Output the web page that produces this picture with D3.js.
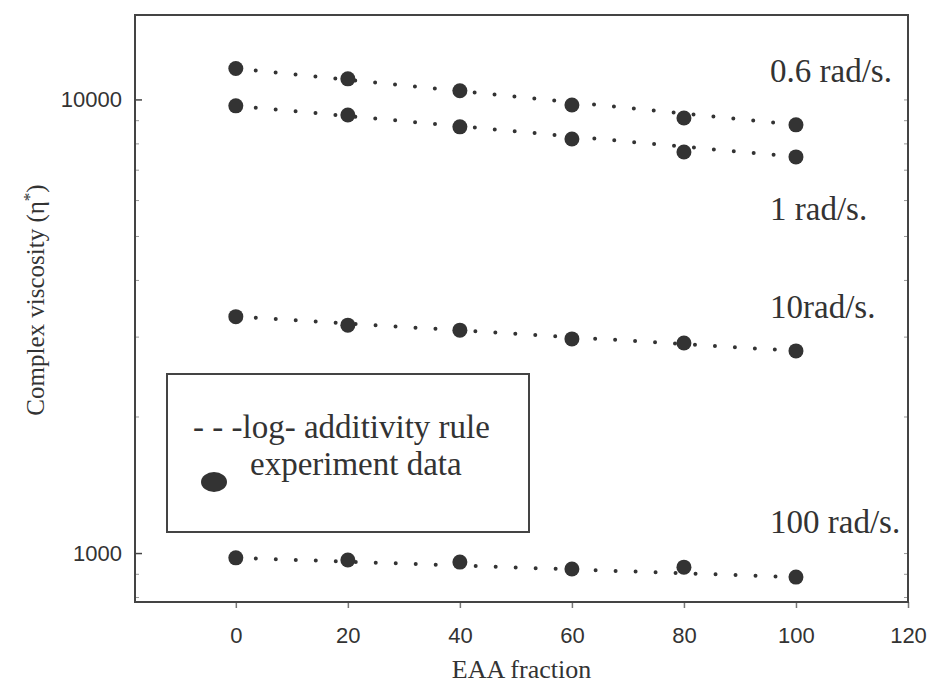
<!DOCTYPE html>
<html>
<head>
<meta charset="utf-8">
<script src="https://cdn.jsdelivr.net/npm/d3@7"></script>
<style>
  body { margin: 0; background: #fff; }
</style>
</head>
<body>
<script>
var fraction = [0, 20, 40, 60, 80, 100]
var x_ticks = [0, 20, 40, 60, 80, 100, 120]
var y_labels = [1000, 10000]
var rates = ["0.6 rad/s.", "1 rad/s.", "10rad/s.", "100 rad/s."]

// experiment data, one array per frequency
var eta_06 = [11700, 11100, 10450, 9720, 9100, 8790]
var eta_1 = [9680, 9240, 8700, 8180, 7660, 7470]
var eta_10 = [3320, 3180, 3100, 2965, 2905, 2790]
var eta_100 = [976, 965, 955, 922, 931, 885]
var series = [eta_06, eta_1, eta_10, eta_100]

// log-additivity rule: straight line (in log) between the pure components
var rule_x = [0, 100]
var rule_06 = [11700, 8790]
var rule_1 = [9680, 7470]
var rule_10 = [3320, 2790]
var rule_100 = [976, 885]
var rules = [rule_06, rule_1, rule_10, rule_100]

// where each label sits (value at the label baseline)
var label_values = [10930, 5420, 3300, 1107]

const width = 932
const height = 699
const plotLeft = 135, plotRight = 908, plotTop = 15, plotBottom = 602

var graph = d3.select("body").append("svg").attr("width", width).attr("height", height)

var xScale = d3.scaleLinear().domain([-18, 120]).range([plotLeft, plotRight])
var yScale = d3.scaleLog().domain([780, 15350]).range([plotBottom, plotTop])

var serif = "'Liberation Serif', 'Times New Roman', serif"
var sans = "'Liberation Sans', Arial, sans-serif"

// x axis
var x_axis = graph.append("g")
    .attr("transform", "translate(0," + plotBottom + ")")
    .call(d3.axisBottom(xScale).tickValues(x_ticks).tickSize(6).tickSizeOuter(0).tickPadding(19))
x_axis.select(".domain").remove()
x_axis.selectAll("line").attr("stroke", "#777").attr("stroke-width", 1.5)
x_axis.selectAll("text").attr("font-family", sans).attr("font-size", 22).attr("fill", "#333")

// y axis, ticks pointing into the plot
var minor = yScale.ticks().filter((d) => d >= 780 && d <= 15350)
var y_axis = graph.append("g")
    .attr("transform", "translate(" + plotLeft + ",0)")
    .call(d3.axisLeft(yScale).tickValues(minor).tickSize(-4).tickPadding(13)
        .tickFormat((d) => y_labels.indexOf(d) >= 0 ? d : ""))
y_axis.select(".domain").remove()
y_axis.selectAll("line").attr("stroke", "#999")
y_axis.selectAll(".tick").filter((d) => y_labels.indexOf(d) >= 0).select("line")
    .attr("x2", 7).attr("stroke", "#444").attr("stroke-width", 1.5)
y_axis.selectAll("text").attr("font-family", sans).attr("font-size", 22).attr("fill", "#333")

var y_axis2 = graph.append("g")
    .attr("transform", "translate(" + plotRight + ",0)")
    .call(d3.axisRight(yScale).tickValues(minor).tickSize(-4).tickFormat(""))
y_axis2.select(".domain").remove()
y_axis2.selectAll("line").attr("stroke", "#999")

// frame
graph.append("rect")
    .attr("x", plotLeft).attr("y", plotTop)
    .attr("width", plotRight - plotLeft).attr("height", plotBottom - plotTop)
    .attr("fill", "none").attr("stroke", "#444").attr("stroke-width", 2)

// axis titles
graph.append("text").attr("x", (plotLeft + plotRight) / 2).attr("y", 678)
    .attr("text-anchor", "middle").attr("font-family", serif).attr("font-size", 26).attr("fill", "#333")
    .text("EAA fraction")

var ytitle = graph.append("text")
    .attr("transform", "translate(44,300) rotate(-90)")
    .attr("text-anchor", "middle").attr("font-family", serif).attr("font-size", 25).attr("fill", "#333")
ytitle.append("tspan").text("Complex viscosity (η")
ytitle.append("tspan").attr("dy", -9).attr("font-size", 17).text("*")
ytitle.append("tspan").attr("dy", 9).text(")")

// rule lines (dotted)
var lineGenerator = d3.line()
    .x((d, i) => xScale(rule_x[i]))
    .y((d) => yScale(d))

graph.selectAll(".rule").data(rules).enter().append("path")
    .attr("class", "rule")
    .attr("fill", "none")
    .attr("stroke", "#333")
    .attr("stroke-width", 4)
    .attr("stroke-linecap", "round")
    .attr("stroke-dasharray", "0 20")
    .attr("d", lineGenerator)

// experiment points
var groups = graph.selectAll(".series").data(series).enter().append("g").attr("class", "series")
groups.selectAll("circle").data((d) => d).enter().append("circle")
    .attr("cx", (d, i) => xScale(fraction[i]))
    .attr("cy", (d) => yScale(d))
    .attr("r", 7.5)
    .attr("fill", "#333")

// frequency labels
graph.selectAll(".rate").data(rates).enter().append("text")
    .attr("class", "rate")
    .attr("x", 770)
    .attr("y", (d, i) => yScale(label_values[i]))
    .attr("font-family", serif).attr("font-size", 33).attr("fill", "#333")
    .text((d) => d)

// legend
var legend = graph.append("g")
legend.append("rect").attr("x", 167).attr("y", 374).attr("width", 362).attr("height", 158)
    .attr("fill", "#fff").attr("stroke", "#444").attr("stroke-width", 2)
legend.append("text").attr("x", 193).attr("y", 438)
    .attr("font-family", serif).attr("font-size", 33).attr("fill", "#333")
    .text("- - -log- additivity rule")
legend.append("ellipse").attr("cx", 214).attr("cy", 482).attr("rx", 13).attr("ry", 10).attr("fill", "#333")
legend.append("text").attr("x", 250).attr("y", 475)
    .attr("font-family", serif).attr("font-size", 33).attr("fill", "#333")
    .text("experiment data")
</script>
</body>
</html>
